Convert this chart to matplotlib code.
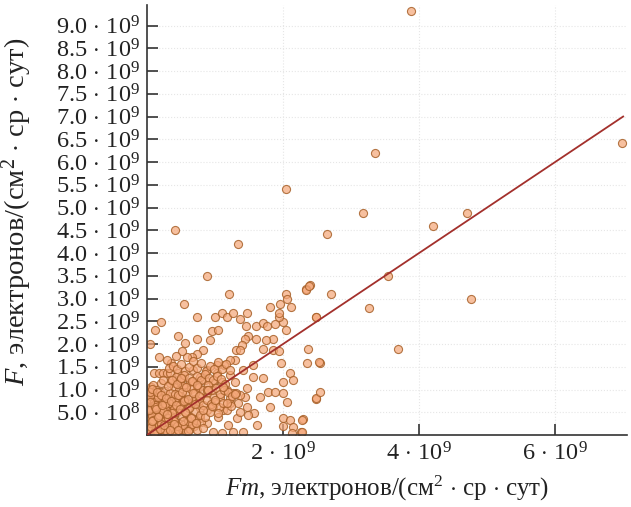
import numpy as np
import matplotlib
matplotlib.use("Agg")
import matplotlib.pyplot as plt

plt.rcParams['font.family'] = ['Liberation Serif', 'DejaVu Serif']
plt.rcParams['mathtext.fontset'] = 'custom'
plt.rcParams['mathtext.rm'] = 'Liberation Serif'
plt.rcParams['mathtext.it'] = 'Liberation Serif:italic'

# точки (Fm, F) в единицах 1e9
fm_outer = [3.88, 6.98, 3.35, 3.17, 2.64, 4.20, 4.70, 2.05, 0.41, 1.34,
            4.77, 3.55, 3.26, 3.69, 2.70, 2.39, 2.34, 2.48, 2.37, 2.54,
            2.49, 2.29, 2.27]
f_outer = [9.33, 6.41, 6.20, 4.89, 4.41, 4.59, 4.89, 5.40, 4.50, 4.20,
           2.99, 3.49, 2.80, 1.88, 3.10, 3.30, 3.20, 2.59, 1.88, 1.58,
           0.80, 0.35, 0.07]

fm_mid = [0.877, 0.549, 0.201, 0.118, 0.044, 0.451, 0.730, 0.730, 0.559, 1.201,
          1.000, 1.098, 1.172, 1.270, 1.466, 1.368, 1.451, 1.598, 1.711, 1.760,
          1.882, 2.005, 1.936, 1.946, 1.809, 1.956, 2.039, 2.064, 2.113, 2.333,
          2.382, 2.480, 2.039, 1.858, 1.750, 1.711, 1.848, 1.946, 1.603, 1.490,
          1.441, 1.392, 1.309, 1.368, 1.294, 1.221, 1.132, 1.025, 0.951, 1.049,
          0.926, 0.828, 0.740, 0.657, 0.583, 0.510, 0.426, 0.348, 0.289, 0.181,
          0.103, 0.181, 0.240, 0.289, 0.338, 0.461, 1.564, 1.564, 1.711, 1.971,
          2.103, 2.005, 2.152, 2.348, 2.534, 1.784, 1.882, 2.005, 2.054, 1.809,
          1.662, 1.574, 1.466, 1.343, 1.221, 1.319, 1.123, 1.049, 1.196, 1.613,
          1.417, 1.270, 1.098, 1.995, 2.005, 2.103, 2.152, 2.275, 2.275, 2.127,
          2.485, 2.544, 1.417, 1.294, 1.221, 1.098, 1.025, 0.975, 0.877, 0.853,
          0.779, 0.681, 0.730, 0.632, 0.559, 0.510, 0.412, 0.338, 1.466, 1.441,
          1.368, 1.270, 1.172, 1.221, 1.074, 0.975, 0.877, 0.779, 0.681, 0.975,
          0.877, 0.779, 0.632, 0.779, 0.877, 0.975, 0.681, 0.583, 0.510, 0.436,
          0.338, 0.240, 0.142, 0.142, 0.240, 0.387, 0.534, 0.289]
f_mid = [3.49, 2.89, 2.49, 2.31, 1.99, 2.18, 2.59, 2.10, 2.03, 3.10,
         2.59, 2.69, 2.60, 2.69, 2.69, 2.56, 2.40, 2.40, 2.47, 2.40,
         2.45, 2.49, 2.60, 2.69, 2.81, 2.89, 3.10, 2.98, 2.81, 3.19,
         3.28, 2.60, 2.31, 2.12, 2.09, 1.90, 1.87, 1.85, 2.10, 2.18,
         2.10, 1.98, 1.87, 1.87, 1.65, 1.65, 1.54, 1.54, 2.29, 2.31,
         2.09, 1.87, 1.79, 1.72, 1.72, 1.85, 1.74, 1.58, 1.65, 1.72,
         1.37, 1.37, 1.37, 1.37, 1.37, 1.37, 1.54, 1.28, 1.25, 1.58,
         1.36, 1.17, 1.21, 1.58, 1.61, 0.95, 0.95, 0.93, 0.73, 0.62,
         0.84, 0.48, 0.61, 0.70, 0.70, 0.37, 0.55, 0.40, 0.22, 0.22,
         0.07, 0.07, 0.04, 0.37, 0.20, 0.33, 0.18, 0.33, 0.07, 0.04,
         0.81, 0.95, 1.43, 1.17, 1.32, 1.17, 1.36, 1.14, 1.43, 1.21,
         1.28, 1.43, 1.03, 1.17, 1.06, 1.25, 1.14, 1.14, 1.03, 0.84,
         0.88, 0.92, 0.99, 0.81, 0.84, 0.84, 0.92, 0.84, 0.73, 0.62,
         0.55, 0.59, 0.62, 0.37, 0.26, 0.07, 0.26, 0.37, 0.62, 0.81,
         0.62, 0.55, 0.77, 0.40, 0.26, 0.11, 0.11, 0.04]

# дополнительные точки средней плотности
fm_mid2 = [0.32, 0.38, 0.44, 0.50, 0.56, 0.62, 0.68, 0.74, 0.80, 0.86,
           0.92, 0.98, 1.04, 1.10, 1.16, 1.22, 0.35, 0.42, 0.48, 0.55,
           0.61, 0.67, 0.73, 0.79, 0.85, 0.91, 0.97, 1.03, 1.09, 1.15,
           0.40, 0.47, 0.53, 0.59, 0.65, 0.71, 0.77, 0.83, 0.89, 0.95,
           1.01, 1.07, 1.13, 1.19, 1.25, 1.31, 0.58, 0.64, 0.70, 0.76,
           0.82, 0.88, 0.94, 1.00, 1.06, 1.12, 1.18, 1.24, 1.36, 1.48]
f_mid2 = [1.48, 1.52, 1.45, 1.55, 1.40, 1.50, 1.62, 1.48, 1.58, 1.40,
          1.52, 1.46, 1.60, 1.45, 1.55, 1.42, 1.22, 1.28, 1.20, 1.32,
          1.25, 1.18, 1.30, 1.22, 1.34, 1.26, 1.20, 1.30, 1.24, 1.12,
          1.05, 0.98, 1.08, 0.95, 1.02, 0.92, 1.06, 0.98, 1.10, 1.00,
          1.04, 0.90, 1.00, 0.94, 0.86, 0.92, 0.78, 0.70, 0.80, 0.74,
          0.66, 0.76, 0.68, 0.72, 0.62, 0.70, 0.56, 0.64, 0.50, 0.44]

# плотное облако у начала координат
fm_dense = [0.02, 0.04, 0.06, 0.08, 0.10, 0.12, 0.14, 0.16, 0.18, 0.20,
            0.03, 0.05, 0.07, 0.09, 0.11, 0.13, 0.15, 0.17, 0.19, 0.21,
            0.02, 0.04, 0.06, 0.08, 0.10, 0.12, 0.14, 0.16, 0.18, 0.22,
            0.03, 0.05, 0.07, 0.09, 0.11, 0.13, 0.15, 0.17, 0.24, 0.26,
            0.02, 0.04, 0.06, 0.08, 0.10, 0.12, 0.14, 0.20, 0.28, 0.30,
            0.03, 0.05, 0.07, 0.09, 0.11, 0.16, 0.22, 0.25, 0.32, 0.35,
            0.02, 0.04, 0.06, 0.08, 0.12, 0.18, 0.24, 0.29, 0.34, 0.40,
            0.03, 0.05, 0.07, 0.10, 0.14, 0.20, 0.27, 0.33, 0.38, 0.45,
            0.02, 0.04, 0.08, 0.12, 0.16, 0.23, 0.30, 0.37, 0.43, 0.50,
            0.03, 0.06, 0.09, 0.13, 0.19, 0.26, 0.34, 0.41, 0.48, 0.55,
            0.25, 0.31, 0.36, 0.42, 0.47, 0.52, 0.58, 0.63, 0.69, 0.74,
            0.22, 0.28, 0.35, 0.40, 0.46, 0.53, 0.60, 0.66, 0.72, 0.80,
            0.30, 0.38, 0.44, 0.51, 0.57, 0.64, 0.70, 0.78, 0.85, 0.92,
            0.27, 0.33, 0.39, 0.48, 0.55, 0.62, 0.71, 0.83, 0.95, 1.05,
            0.45, 0.52, 0.60, 0.68, 0.76, 0.88, 1.00, 1.12, 1.18, 1.30,
            0.20, 0.24, 0.31, 0.36, 0.44, 0.50, 0.58, 0.66, 0.74, 0.90,
            0.01, 0.03, 0.05, 0.07, 0.09, 0.11, 0.13, 0.15, 0.17, 0.19,
            0.01, 0.02, 0.04, 0.06, 0.08, 0.10, 0.12, 0.14, 0.21, 0.23,
            0.05, 0.09, 0.13, 0.17, 0.21, 0.25, 0.29, 0.33, 0.37, 0.41,
            0.06, 0.10, 0.15, 0.19, 0.23, 0.27, 0.31, 0.36, 0.40, 0.44,
            0.04, 0.08, 0.12, 0.16, 0.26, 0.32, 0.39, 0.46, 0.53, 0.60,
            0.15, 0.21, 0.28, 0.35, 0.42, 0.49, 0.56, 0.64, 0.72, 0.82,
            0.02, 0.05, 0.08, 0.11, 0.14, 0.17, 0.20, 0.23, 0.26, 0.29,
            0.03, 0.06, 0.09, 0.12, 0.15, 0.18, 0.21, 0.24, 0.27, 0.31,
            0.04, 0.07, 0.10, 0.13, 0.16, 0.19, 0.22, 0.25, 0.29, 0.34]
f_dense = [0.02, 0.05, 0.03, 0.07, 0.04, 0.09, 0.06, 0.10, 0.05, 0.12,
           0.10, 0.14, 0.12, 0.18, 0.15, 0.20, 0.17, 0.22, 0.25, 0.19,
           0.20, 0.24, 0.28, 0.26, 0.30, 0.33, 0.29, 0.36, 0.32, 0.28,
           0.30, 0.35, 0.38, 0.42, 0.40, 0.44, 0.46, 0.41, 0.35, 0.42,
           0.40, 0.46, 0.50, 0.48, 0.53, 0.55, 0.50, 0.47, 0.45, 0.38,
           0.52, 0.58, 0.62, 0.60, 0.64, 0.57, 0.60, 0.55, 0.50, 0.44,
           0.62, 0.70, 0.74, 0.68, 0.72, 0.66, 0.70, 0.63, 0.58, 0.52,
           0.75, 0.80, 0.85, 0.78, 0.82, 0.76, 0.79, 0.72, 0.66, 0.60,
           0.88, 0.92, 0.95, 0.90, 0.86, 0.84, 0.88, 0.80, 0.74, 0.68,
           1.00, 1.05, 1.10, 0.98, 0.94, 0.97, 0.92, 0.90, 0.85, 0.78,
           0.08, 0.12, 0.06, 0.15, 0.10, 0.18, 0.08, 0.14, 0.20, 0.10,
           0.25, 0.18, 0.22, 0.30, 0.26, 0.22, 0.30, 0.25, 0.33, 0.28,
           0.45, 0.38, 0.50, 0.42, 0.48, 0.40, 0.52, 0.45, 0.40, 0.50,
           0.62, 0.70, 0.58, 0.66, 0.75, 0.60, 0.68, 0.55, 0.63, 0.48,
           0.88, 0.95, 0.80, 0.92, 0.86, 0.98, 0.76, 1.05, 0.70, 0.90,
           1.15, 1.22, 1.08, 1.20, 1.12, 1.25, 1.05, 1.18, 1.10, 1.00,
           0.04, 0.08, 0.12, 0.02, 0.16, 0.06, 0.22, 0.11, 0.03, 0.15,
           0.35, 0.60, 0.85, 0.18, 0.45, 0.72, 0.27, 0.64, 0.07, 0.33,
           0.16, 0.22, 0.05, 0.36, 0.13, 0.27, 0.09, 0.21, 0.16, 0.04,
           0.55, 0.65, 0.44, 0.58, 0.36, 0.68, 0.24, 0.48, 0.30, 0.20,
           0.95, 1.02, 0.65, 0.84, 0.05, 0.15, 0.24, 0.12, 0.30, 0.08,
           0.95, 0.88, 0.82, 0.74, 0.66, 0.58, 0.50, 0.38, 0.26, 0.16,
           0.13, 0.27, 0.41, 0.09, 0.35, 0.22, 0.48, 0.16, 0.31, 0.06,
           0.56, 0.18, 0.34, 0.62, 0.08, 0.44, 0.25, 0.52, 0.12, 0.38,
           0.72, 0.30, 0.05, 0.58, 0.40, 0.14, 0.66, 0.22, 0.47, 0.10]

fm = np.array(fm_outer + fm_mid + fm_mid2 + fm_dense) * 1e9
f = np.array(f_outer + f_mid + f_mid2 + f_dense) * 1e9

# линия регрессии
line_x = [0.0, 7.0e9]
line_y = [0.0, 7.0e9]

x_ticks = [2e9, 4e9, 6e9]
x_labels = [r'$2\,\cdot\,10^{9}$', r'$4\,\cdot\,10^{9}$', r'$6\,\cdot\,10^{9}$']
y_ticks = [5e8] + [k * 0.5e9 for k in range(2, 19)]
y_labels = [r'$5.0\,\cdot\,10^{8}$'] + [r'$%.1f\,\cdot\,10^{9}$' % (k * 0.5) for k in range(2, 19)]

fig = plt.figure(figsize=(6.31, 5.07), dpi=100)
ax = fig.add_axes([0.233, 0.142, 0.761, 0.848])

ax.scatter(fm, f, s=34, facecolor=(0.96, 0.66, 0.48, 0.72),
           edgecolor=(0.66, 0.38, 0.16, 0.85), linewidth=0.8, zorder=2)
ax.plot(line_x, line_y, color='#a3302c', lw=1.3, zorder=3)

ax.set_xlim(0, 7.06e9)
ax.set_ylim(0, 9.45e9)
ax.set_xticks(x_ticks)
ax.set_xticklabels(x_labels)
ax.set_yticks(y_ticks)
ax.set_yticklabels(y_labels)
ax.tick_params(direction='in', length=8, width=1.2, color='#333333',
               labelsize=17.5, labelcolor='#222222', pad=5)
ax.grid(True, color='#e6e6e6', linestyle=':', linewidth=0.8, zorder=0)

for side in ['top', 'right']:
    ax.spines[side].set_visible(False)
for side in ['left', 'bottom']:
    ax.spines[side].set_linewidth(1.2)
    ax.spines[side].set_color('#333333')

ax.set_xlabel(r'$Fm$, электронов/(см$^2$ $\cdot$ ср $\cdot$ сут)', fontsize=18,
              color='#222222', labelpad=6)
ax.set_ylabel(r'$F$, электронов/(см$^2$ $\cdot$ ср $\cdot$ сут)', fontsize=20.5,
              color='#222222')
ax.yaxis.set_label_coords(-0.235, 0.52)

fig.savefig('out.png', dpi=100)
